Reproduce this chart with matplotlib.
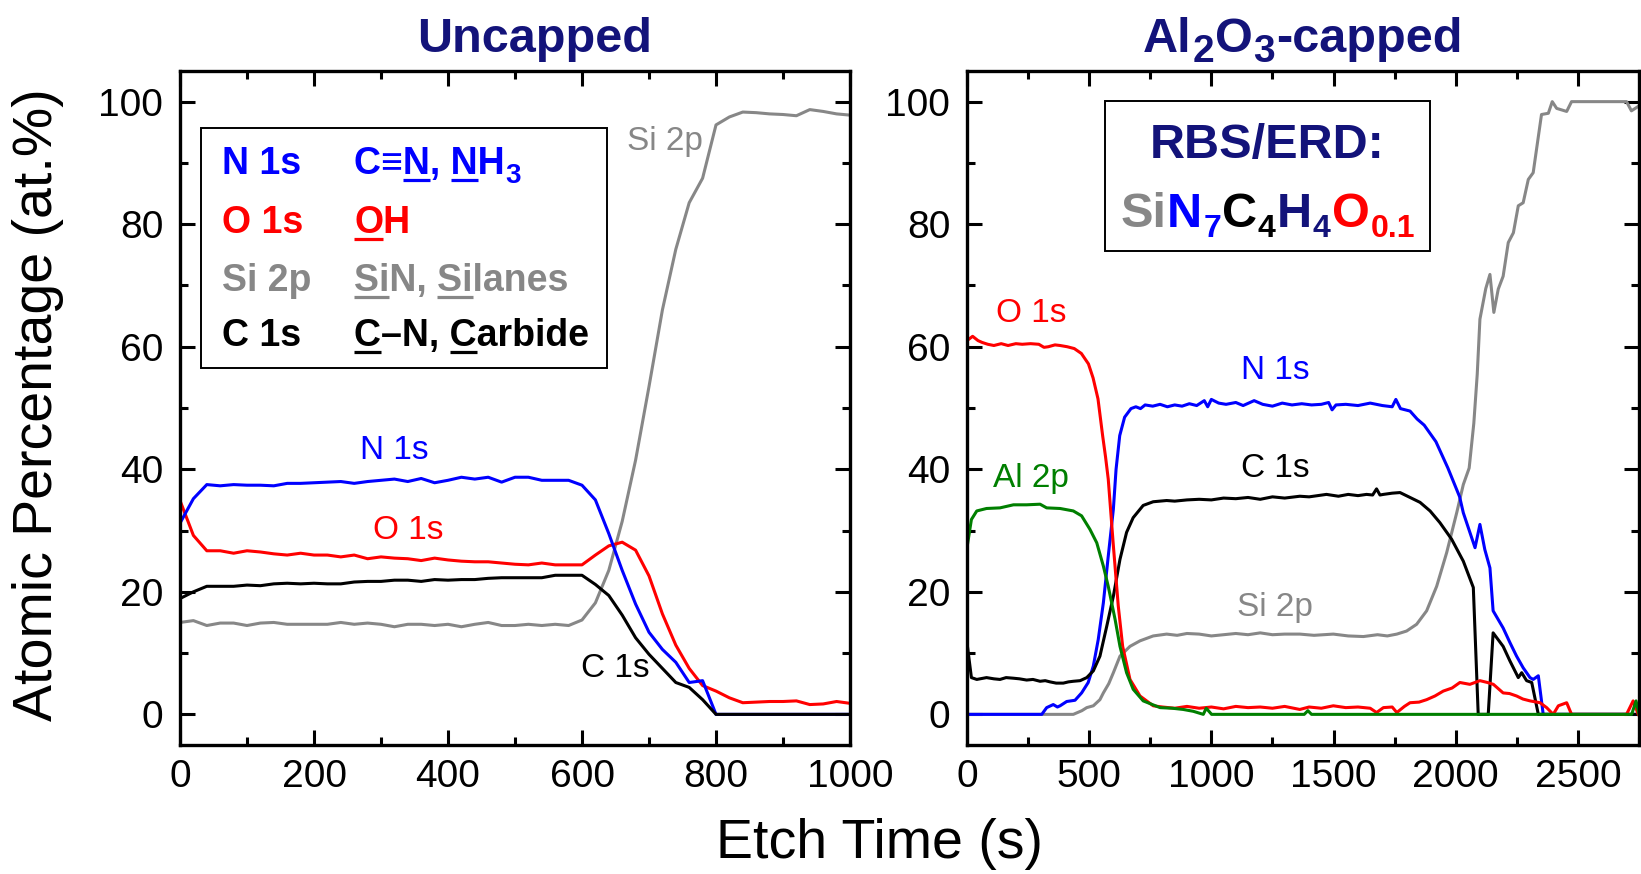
"""XPS depth profiles: uncapped vs Al2O3-capped film."""
import matplotlib
matplotlib.use("Agg")
import matplotlib.pyplot as plt
from matplotlib import font_manager
from matplotlib.lines import Line2D
from matplotlib.patches import Rectangle
from matplotlib.ticker import MultipleLocator

W, H = 1641, 874

BLUE, RED, GRAY, GREEN, NAVY = "#0000ff", "#ff0000", "#878787", "#007f00", "#13137a"

# ---- uncapped film, etch time in s
t_unc = list(range(0, 1001, 20))
n1s_unc = [31.2, 35.2, 37.5, 37.3, 37.5, 37.4, 37.4, 37.3, 37.7, 37.7,
           37.8, 37.9, 38.0, 37.7, 38.0, 38.2, 38.4, 38.0, 38.5, 37.8,
           38.2, 38.7, 38.4, 38.7, 37.9, 38.7, 38.7, 38.2, 38.2, 38.2,
           37.4, 35.0, 29.5, 23.5, 18.0, 13.4, 10.6, 8.5, 5.2, 5.5,
           0, 0, 0, 0, 0, 0, 0, 0, 0, 0, 0]
o1s_unc = [34.9, 29.2, 26.7, 26.7, 26.3, 26.7, 26.5, 26.2, 26.0, 26.3,
           26.0, 26.0, 25.7, 26.0, 25.4, 25.7, 25.5, 25.4, 25.1, 25.5,
           25.2, 25.0, 24.9, 24.9, 24.7, 24.5, 24.4, 24.7, 24.4, 24.4,
           24.4, 26.0, 27.5, 28.1, 26.8, 22.6, 16.4, 11.3, 7.5, 4.7,
           3.8, 2.7, 1.9, 2.0, 2.1, 2.1, 2.2, 1.6, 1.7, 2.1, 1.8]
c1s_unc = [18.9, 20.0, 20.9, 20.9, 20.9, 21.1, 21.0, 21.3, 21.4, 21.3,
           21.4, 21.3, 21.3, 21.6, 21.7, 21.7, 21.9, 21.9, 21.7, 22.0,
           21.9, 22.0, 22.0, 22.2, 22.3, 22.3, 22.3, 22.3, 22.7, 22.7,
           22.7, 21.2, 19.4, 16.2, 12.5, 9.8, 7.5, 5.2, 4.4, 2.4,
           0, 0, 0, 0, 0, 0, 0, 0, 0, 0, 0]
si2p_unc = [15.0, 15.3, 14.5, 14.9, 14.9, 14.5, 14.9, 15.0, 14.7, 14.7,
            14.7, 14.7, 15.0, 14.7, 14.9, 14.7, 14.3, 14.7, 14.7, 14.5,
            14.7, 14.3, 14.7, 15.0, 14.5, 14.5, 14.7, 14.5, 14.7, 14.5,
            15.4, 18.2, 23.5, 31.5, 41.5, 53.5, 66.0, 75.9, 83.5, 87.5,
            96.2, 97.5, 98.3, 98.2, 98.0, 97.9, 97.7, 98.7, 98.4, 98.0, 97.8]

# ---- Al2O3-capped film
t_o1s_cap = [0, 23, 45, 62, 85, 110, 140, 168, 200, 226, 260, 294, 315, 333, 360, 381, 410,
             439, 468, 497, 516, 536, 555, 567, 578, 599, 619, 637, 667, 708, 762, 800, 850,
             900, 950, 1000, 1050, 1100, 1150, 1200, 1250, 1300, 1362, 1400, 1450, 1499, 1550,
             1600, 1650, 1676, 1704, 1740, 1759, 1790, 1813, 1850, 1881, 1915, 1949, 1985,
             2017, 2058, 2099, 2130, 2154, 2194, 2220, 2249, 2275, 2304, 2345, 2372, 2399,
             2420, 2454, 2474, 2699, 2726, 2747]
o1s_cap = [61.0, 61.7, 61.0, 60.7, 60.4, 60.2, 60.5, 60.2, 60.5, 60.4, 60.5, 60.4, 59.9, 60.0,
           60.3, 60.2, 60.0, 59.7, 58.9, 57.2, 54.9, 51.5, 45.5, 42.0, 38.4, 27.5, 17.7, 11.1,
           5.7, 3.0, 1.4, 1.2, 1.0, 1.3, 1.0, 1.2, 0.9, 1.3, 1.1, 1.2, 1.0, 1.3, 0.8, 1.2, 1.0,
           1.4, 1.1, 1.2, 1.0, 0.3, 1.1, 1.2, 0.3, 1.3, 1.9, 2.0, 2.4, 3.0, 3.8, 4.3, 5.2, 4.9,
           5.5, 5.2, 4.9, 3.5, 3.4, 3.0, 2.5, 2.2, 1.9, 1.1, 0.0, 1.4, 1.9, 0.0, 0.0, 2.2, 0.0]

t_al2p_cap = [0, 18, 40, 80, 135, 190, 244, 299, 326, 381, 435, 469, 503, 531, 558, 578, 606,
              626, 653, 680, 721, 790, 840, 885, 926, 967, 979, 1001, 1380, 1395, 1410, 2720,
              2738, 2750]
al2p_cap = [27.2, 31.8, 33.2, 33.6, 33.7, 34.2, 34.2, 34.3, 33.7, 33.6, 33.2, 32.4, 30.2, 28.0,
            24.2, 20.9, 15.5, 11.1, 6.8, 4.1, 2.2, 1.1, 1.0, 0.8, 0.5, 0.0, 1.0, 0.0, 0.0, 0.6,
            0.0, 0.0, 2.2, 0.0]

t_n1s_cap = [0, 306, 326, 353, 370, 381, 408, 442, 469, 496, 517, 537, 558, 578, 599, 610, 625,
             645, 671, 691, 710, 729, 760, 790, 820, 850, 880, 910, 940, 971, 985, 1000, 1030,
             1060, 1100, 1130, 1175, 1210, 1250, 1290, 1330, 1370, 1410, 1450, 1480, 1494, 1510,
             1550, 1600, 1650, 1700, 1740, 1755, 1774, 1813, 1842, 1871, 1919, 1968, 2016, 2031,
             2079, 2099, 2119, 2140, 2153, 2194, 2222, 2249, 2276, 2304, 2317, 2338, 2358, 2750]
n1s_cap = [0, 0, 1.1, 1.6, 1.2, 1.4, 2.1, 2.3, 3.5, 5.2, 7.9, 12.2, 18.2, 25.8, 33.5, 40.0, 45.5,
           48.5, 49.9, 50.2, 49.9, 50.5, 50.3, 50.6, 50.2, 50.5, 50.3, 50.7, 50.4, 51.2, 50.2,
           51.4, 50.8, 50.6, 50.9, 50.4, 51.2, 50.6, 50.3, 50.8, 50.5, 50.7, 50.5, 50.6, 50.9,
           49.7, 50.5, 50.6, 50.4, 50.8, 50.4, 50.2, 51.4, 49.9, 49.5, 48.2, 47.2, 44.5, 40.2,
           35.5, 32.9, 27.2, 31.0, 26.9, 23.9, 16.9, 14.1, 11.7, 9.5, 7.6, 6.0, 5.7, 6.3, 0, 0]

t_c1s_cap = [0, 18, 40, 80, 110, 135, 160, 190, 215, 244, 270, 299, 320, 340, 365, 394, 415, 435,
             463, 490, 517, 544, 572, 599, 626, 653, 680, 721, 762, 817, 850, 900, 950, 1000,
             1050, 1100, 1150, 1200, 1250, 1300, 1362, 1400, 1471, 1520, 1560, 1600, 1635, 1660,
             1676, 1690, 1704, 1740, 1772, 1813, 1854, 1895, 1935, 1983, 2031, 2072, 2092, 2133,
             2153, 2194, 2222, 2256, 2270, 2290, 2311, 2338, 2750]
c1s_cap = [11.7, 6.0, 5.7, 6.0, 5.8, 5.7, 6.0, 5.9, 5.8, 5.6, 5.7, 5.4, 5.5, 5.3, 5.1, 5.1, 5.3,
           5.4, 5.5, 6.0, 7.1, 9.5, 14.4, 19.3, 25.3, 29.7, 32.1, 34.1, 34.7, 34.9, 34.8, 35.0,
           35.1, 35.0, 35.3, 35.2, 35.4, 35.1, 35.5, 35.3, 35.6, 35.5, 35.9, 35.6, 35.9, 35.7,
           35.9, 35.8, 36.8, 35.8, 35.9, 36.1, 36.2, 35.4, 34.6, 33.2, 31.3, 28.6, 25.0, 20.7,
           0, 0, 13.3, 11.1, 8.7, 6.0, 6.8, 5.5, 5.2, 0, 0]

t_si2p_cap = [0, 435, 470, 490, 517, 544, 558, 580, 599, 626, 667, 708, 762, 817, 860, 900, 950,
              1000, 1050, 1100, 1150, 1200, 1250, 1300, 1362, 1420, 1499, 1560, 1622, 1680, 1720,
              1759, 1799, 1840, 1881, 1922, 1963, 2004, 2031, 2055, 2074, 2088, 2099, 2123, 2140,
              2156, 2174, 2194, 2215, 2236, 2256, 2276, 2297, 2317, 2351, 2379, 2395, 2413, 2454,
              2474, 2699, 2719, 2750]
si2p_cap = [0, 0, 0.6, 1.1, 1.4, 2.4, 3.5, 5.0, 6.8, 9.5, 11.1, 12.0, 12.8, 13.1, 12.9, 13.2,
            13.1, 12.8, 13.0, 13.2, 13.0, 13.3, 13.0, 13.1, 13.1, 12.9, 13.1, 12.8, 12.7, 13.0,
            12.8, 13.1, 13.6, 14.7, 16.9, 20.9, 26.4, 32.9, 37.5, 40.2, 47.5, 55.5, 64.5, 69.5,
            71.8, 65.6, 69.4, 71.5, 77.0, 78.6, 83.0, 83.5, 87.3, 88.4, 97.9, 98.1, 100.0, 98.9,
            98.4, 100.0, 100.0, 98.5, 99.3]

# curve labels: (text, x, y, colour)
labels_unc = [("N 1s", 320, 43.0, BLUE), ("O 1s", 340, 30.0, RED),
              ("C 1s", 650, 7.5, "black"), ("Si 2p", 724, 93.5, GRAY)]
labels_cap = [("O 1s", 262, 65.5, RED), ("Al 2p", 262, 38.5, GREEN),
              ("N 1s", 1260, 56.2, BLUE), ("C 1s", 1260, 40.2, "black"),
              ("Si 2p", 1260, 17.5, GRAY)]

SANS = ["Liberation Sans", "DejaVu Sans"]
names = {f.name for f in font_manager.fontManager.ttflist}
HAS_NARROW = "Liberation Sans Narrow" in names
NARROW = ["Liberation Sans Narrow"] + SANS if HAS_NARROW else SANS
TICK_SIZE = 31 if HAS_NARROW else 28
TITLE_SIZE = 40 if HAS_NARROW else 35

plt.rcParams["font.family"] = SANS

fig = plt.figure(figsize=(W / 100, H / 100), dpi=100)
renderer = fig.canvas.get_renderer()


def fx(x):
    return x / W


def fy(y):
    return 1 - y / H


def style_axes(ax, xmax, major, minor):
    ax.set_xlim(0, xmax)
    ax.set_ylim(-5, 105)
    ax.xaxis.set_major_locator(MultipleLocator(major))
    ax.xaxis.set_minor_locator(MultipleLocator(minor))
    ax.yaxis.set_major_locator(MultipleLocator(20))
    ax.yaxis.set_minor_locator(MultipleLocator(10))
    ax.tick_params(which="both", direction="in", top=True, right=True, width=2.2,
                   labelsize=TICK_SIZE, labelfontfamily=NARROW)
    ax.tick_params(which="major", length=10.8)
    ax.tick_params(which="minor", length=5.8)
    ax.tick_params(axis="x", pad=10)
    ax.tick_params(axis="y", pad=12)
    for sp in ax.spines.values():
        sp.set_linewidth(2.4)


def width_of(s, **kw):
    t = fig.text(0, 0, s, **kw)
    w = t.get_window_extent(renderer).width
    t.remove()
    return w


def underline(x0, y, s, i, j, color, **kw):
    end = x0 + width_of(s[:j], **kw)
    start = end - width_of(s[i:j], **kw)
    fig.add_artist(Line2D([fx(start), fx(end)], [fy(y + 6)] * 2, color=color, lw=2.3,
                          solid_capstyle="butt", transform=fig.transFigure, zorder=4))


def runs(x, y, parts, size, family, sub_size, sub_drop, center=None):
    """Coloured pieces written left to right on one baseline; sub=True drops and shrinks."""
    x_start = x
    texts = []
    for s, color, sub in parts:
        t = fig.text(fx(x), fy(y + (sub_drop if sub else 0)), s, color=color,
                     fontsize=sub_size if sub else size, family=family,
                     weight="bold", va="baseline", ha="left")
        texts.append(t)
        x = t.get_window_extent(renderer).x1 + 1
    if center is not None:
        shift = center - (x_start + x) / 2
        for t in texts:
            t.set_x(t.get_position()[0] + shift / W)
    return texts


ax_l = fig.add_axes([fx(180), fy(745), 670 / W, 674 / H])
ax_r = fig.add_axes([fx(967), fy(745), 672 / W, 674 / H])

lw = 2.2
ax_l.plot(t_unc, si2p_unc, color=GRAY, lw=lw)
ax_l.plot(t_unc, o1s_unc, color=RED, lw=lw)
ax_l.plot(t_unc, n1s_unc, color=BLUE, lw=lw)
ax_l.plot(t_unc, c1s_unc, color="black", lw=lw)
style_axes(ax_l, 1000, 200, 100)

ax_r.plot(t_si2p_cap, si2p_cap, color=GRAY, lw=lw)
ax_r.plot(t_n1s_cap, n1s_cap, color=BLUE, lw=lw)
ax_r.plot(t_c1s_cap, c1s_cap, color="black", lw=lw)
ax_r.plot(t_o1s_cap, o1s_cap, color=RED, lw=lw)
ax_r.plot(t_al2p_cap, al2p_cap, color=GREEN, lw=lw)
style_axes(ax_r, 2750, 500, 250)

for ax, labels in ((ax_l, labels_unc), (ax_r, labels_cap)):
    for s, x, y, c in labels:
        ax.text(x, y, s, color=c, fontsize=24, ha="center", va="center")

# axis labels shared by both panels
fig.text(fx(38), fy(405), "Atomic Percentage (at.%)", rotation=90, fontsize=40,
         ha="center", va="center")
fig.text(fx(880), fy(858), "Etch Time (s)", fontsize=40, ha="center", va="baseline")

# panel titles
fig.text(fx(535), fy(52), "Uncapped", fontsize=TITLE_SIZE, family=NARROW, weight="bold",
         color=NAVY, ha="center", va="baseline")
runs(1130, 52, [("Al", NAVY, False), ("2", NAVY, True), ("O", NAVY, False),
                ("3", NAVY, True), ("-capped", NAVY, False)],
     TITLE_SIZE, NARROW, TITLE_SIZE * 0.8, 10, center=1303)

# left box: which chemical states belong to each core level
fig.add_artist(Rectangle((fx(201), fy(368)), 406 / W, 240 / H, transform=fig.transFigure,
                         facecolor="white", edgecolor="black", lw=1.4, zorder=2))
legend_rows = [("N 1s", "C≡N, NH", "3", [(2, 3), (5, 6)], BLUE, 174),
               ("O 1s", "OH", "", [(0, 1)], RED, 233),
               ("Si 2p", "SiN, Silanes", "", [(0, 2), (5, 7)], GRAY, 291),
               ("C 1s", "C–N, Carbide", "", [(0, 1), (5, 6)], "black", 346)]
LEG = dict(fontsize=27, weight="bold", family=SANS)
for core, states, sub, marks, color, y in legend_rows:
    fig.text(fx(222), fy(y), core, color=color, va="baseline", **LEG)
    t = fig.text(fx(354), fy(y), states, color=color, va="baseline", **LEG)
    x0 = t.get_window_extent(renderer).x0
    for i, j in marks:
        underline(x0, y, states, i, j, color, **LEG)
    if sub:
        fig.text(fx(t.get_window_extent(renderer).x1 + 1), fy(y + 9), sub, color=color,
                 va="baseline", fontsize=20, weight="bold", family=SANS)

# right box: RBS/ERD composition
fig.add_artist(Rectangle((fx(1105), fy(251)), 325 / W, 150 / H, transform=fig.transFigure,
                         facecolor="white", edgecolor="black", lw=1.4, zorder=2))
fig.text(fx(1267), fy(158), "RBS/ERD:", color=NAVY, fontsize=35, weight="bold",
         ha="center", va="baseline")
runs(1128, 227, [("Si", GRAY, False), ("N", BLUE, False), ("7", BLUE, True),
                 ("C", "black", False), ("4", "black", True), ("H", NAVY, False),
                 ("4", NAVY, True), ("O", RED, False), ("0.1", RED, True)],
     35, SANS, 23, 10, center=1268)

fig.savefig("out.png", dpi=100)
